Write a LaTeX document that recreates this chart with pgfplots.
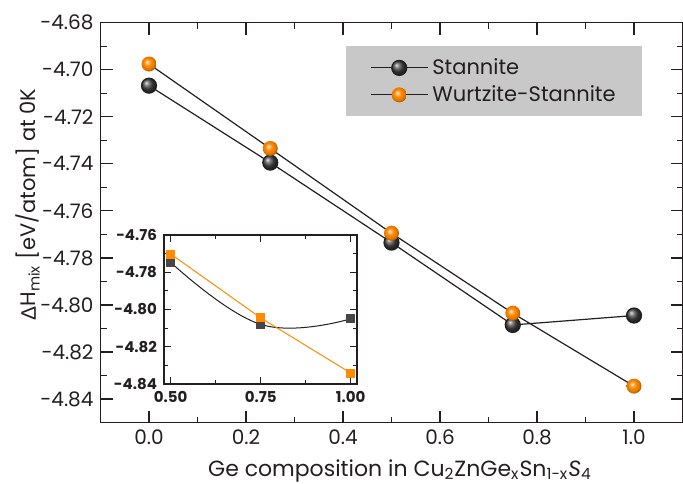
\documentclass[border=0pt]{standalone}
\usepackage{pgfplots}
\pgfplotsset{compat=1.18}
\usepackage{fontspec}
\setmainfont{Poppins}
\newfontfamily\greekfont{Liberation Sans}

\definecolor{ballorange}{RGB}{255,136,0}
\definecolor{sqorange}{RGB}{255,140,0}
\definecolor{balldark}{RGB}{70,70,70}
\definecolor{legendgray}{RGB}{200,200,200}
\definecolor{inkgray}{RGB}{35,31,32}

% bright orange sphere, lighter than the stock ball shading
\pgfdeclareradialshading{orangesphere}{\pgfpoint{-7bp}{7bp}}{%
  color(0bp)=(ballorange!8!white); color(5bp)=(ballorange!55!white);
  color(12bp)=(ballorange); color(22bp)=(ballorange!88!black);
  color(25bp)=(ballorange!70!black); color(50bp)=(ballorange!70!black)}
\pgfdeclareplotmark{orangeball}{%
  \pgfpathcircle{\pgfpointorigin}{\pgfplotmarksize}%
  \pgfshadepath{orangesphere}{0}\pgfusepath{}}

\begin{document}
\begin{tikzpicture}
\begin{axis}[
  scale only axis,
  width=291pt, height=200pt,
  xmin=-0.1, xmax=1.1,
  ymin=-4.85, ymax=-4.68,
  xtick={0,0.2,0.4,0.6,0.8,1.0},
  ytick={-4.84,-4.82,-4.80,-4.78,-4.76,-4.74,-4.72,-4.70,-4.68},
  minor tick num=1,
  tick align=inside,
  major tick length=6pt, minor tick length=3pt,
  axis line style={inkgray, line width=0.7pt},
  every tick/.style={inkgray, line width=0.6pt},
  /pgf/number format/assume math mode=true,
  xticklabel style={/pgf/number format/.cd, fixed, fixed zerofill, precision=1},
  yticklabel style={/pgf/number format/.cd, fixed, fixed zerofill, precision=2},
  tick label style={font=\fontsize{10}{12}\selectfont, text=inkgray},
  label style={font=\fontsize{10.5}{12.5}\selectfont, text=inkgray},
  xlabel={Ge composition in Cu\textsubscript{2}ZnGe\textsubscript{x}Sn\textsubscript{1-x}\textit{S}\textsubscript{4}},
  ylabel={{\greekfont Δ}H\textsubscript{mix} [eV/atom] at 0K},
  xlabel style={font=\fontsize{11}{13}\selectfont, at={(axis description cs:0.5146,-0.1335)}, anchor=base},
  ylabel style={at={(axis description cs:-0.1246,0.545)}, anchor=center, rotate=0},
  legend style={at={(rel axis cs:0.9304,0.9415)}, anchor=north east,
    fill=legendgray, draw=none, font=\fontsize{10.5}{12}\selectfont,
    inner xsep=11pt, inner ysep=4pt, row sep=0pt, text=inkgray},
  legend cell align=left,
  legend image code/.code={\path (-1pt,0pt);
    \draw[mark repeat=2, mark phase=2, #1]
    plot coordinates {(0pt,0pt) (14.25pt,0pt) (28.5pt,0pt)};},
]
\addplot[inkgray, line width=0.6pt, mark=ball, mark size=3.75pt,
  mark options={ball color=balldark}] coordinates {
  (0.00,-4.7068) (0.25,-4.7395) (0.50,-4.7735) (0.75,-4.8085) (1.00,-4.8045)
};
\addlegendentry{Stannite}
\addplot[inkgray, line width=0.6pt, mark=orangeball, mark size=3.75pt] coordinates {
  (0.00,-4.6976) (0.25,-4.7335) (0.50,-4.7695) (0.75,-4.8035) (1.00,-4.8345)
};
\addlegendentry{Wurtzite-Stannite}
\end{axis}

\begin{axis}[
  at={(31.75pt,19.3pt)}, anchor=south west,
  scale only axis,
  width=96.5pt, height=74.5pt,
  xmin=0.4814, xmax=1.0175,
  ymin=-4.84, ymax=-4.76,
  xtick={0.5,0.75,1.0},
  ytick={-4.84,-4.82,-4.80,-4.78,-4.76},
  minor tick num=1,
  tick align=inside,
  major tick length=3.5pt, minor tick length=2pt,
  axis background/.style={fill=white},
  axis line style={inkgray, line width=0.7pt},
  every tick/.style={inkgray, line width=0.6pt},
  /pgf/number format/assume math mode=true,
  xticklabel style={/pgf/number format/.cd, fixed, fixed zerofill, precision=2},
  yticklabel style={/pgf/number format/.cd, fixed, fixed zerofill, precision=2},
  tick label style={font=\bfseries\fontsize{7.5}{9}\selectfont, text=inkgray},
]
\addplot[inkgray, line width=0.5pt, smooth, tension=0.7, mark=square*, mark size=2pt,
  mark options={fill=balldark, draw=balldark}] coordinates {
  (0.50,-4.7747) (0.75,-4.808) (1.00,-4.805)
};
\addplot[sqorange, line width=0.5pt, mark=square*, mark size=2pt,
  mark options={fill=sqorange, draw=sqorange}] coordinates {
  (0.50,-4.7702) (0.75,-4.8045) (1.00,-4.8341)
};
\end{axis}
\pgfresetboundingbox
\path (-50.25pt,-30.2pt) rectangle (291.25pt,211.3pt);
\end{tikzpicture}
\end{document}
